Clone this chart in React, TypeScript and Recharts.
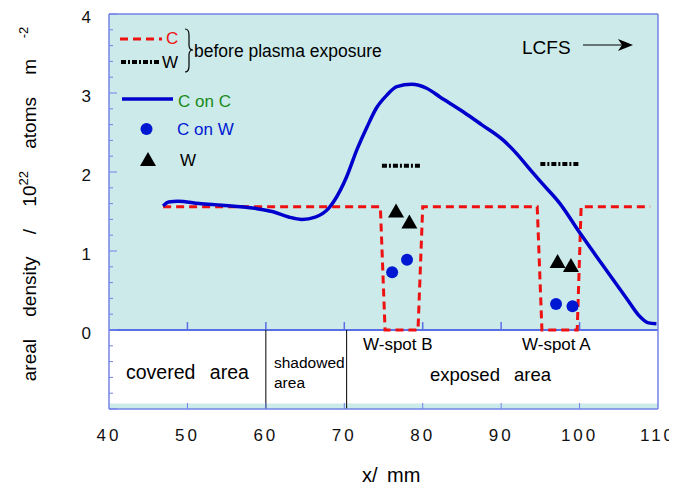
import React from "react";
import {
  ComposedChart,
  Line,
  Scatter,
  XAxis,
  YAxis,
  ReferenceArea,
  ReferenceLine,
} from "recharts";

// C layer before exposure (red dashed, step profile)
const cBefore = [
  { x: 46.9, y: 1.56 },
  { x: 74.6, y: 1.56 },
  { x: 75.2, y: 0 },
  { x: 79.4, y: 0 },
  { x: 80.0, y: 1.56 },
  { x: 94.6, y: 1.56 },
  { x: 95.2, y: 0 },
  { x: 99.7, y: 0 },
  { x: 100.2, y: 1.56 },
  { x: 109.0, y: 1.56 },
];

// W spots before exposure (black dash-dot)
const wSpotB = [
  { x: 74.8, y: 2.08 },
  { x: 79.9, y: 2.08 },
];
const wSpotA = [
  { x: 95.0, y: 2.1 },
  { x: 100.1, y: 2.1 },
];

// C on C after exposure (blue line)
const cOnC = [
  { x: 46.9, y: 1.57 },
  { x: 47.6, y: 1.62 },
  { x: 48.8, y: 1.63 },
  { x: 51.5, y: 1.6 },
  { x: 54.4, y: 1.58 },
  { x: 58.6, y: 1.54 },
  { x: 60.8, y: 1.5 },
  { x: 62.9, y: 1.43 },
  { x: 64.6, y: 1.4 },
  { x: 66.3, y: 1.43 },
  { x: 68.0, y: 1.54 },
  { x: 69.5, y: 1.77 },
  { x: 70.3, y: 1.94 },
  { x: 71.6, y: 2.28 },
  { x: 72.9, y: 2.57 },
  { x: 74.1, y: 2.81 },
  { x: 75.4, y: 2.97 },
  { x: 76.7, y: 3.08 },
  { x: 78.6, y: 3.11 },
  { x: 80.5, y: 3.06 },
  { x: 82.2, y: 2.95 },
  { x: 85.2, y: 2.76 },
  { x: 87.5, y: 2.6 },
  { x: 90.3, y: 2.4 },
  { x: 92.0, y: 2.23 },
  { x: 93.7, y: 2.03 },
  { x: 95.0, y: 1.88 },
  { x: 97.5, y: 1.6 },
  { x: 100.1, y: 1.22 },
  { x: 103.1, y: 0.8 },
  { x: 106.0, y: 0.4 },
  { x: 107.7, y: 0.17 },
  { x: 108.8, y: 0.09 },
  { x: 109.8, y: 0.08 },
];

// C on W (blue dots)
const cOnW = [
  { x: 76.1, y: 0.73 },
  { x: 78.0, y: 0.89 },
  { x: 97.0, y: 0.33 },
  { x: 99.1, y: 0.3 },
];

// W after exposure (black triangles)
const wAfter = [
  { x: 76.6, y: 1.5 },
  { x: 78.3, y: 1.36 },
  { x: 97.2, y: 0.86 },
  { x: 98.9, y: 0.81 },
];

const xTicks = [40, 50, 60, 70, 80, 90, 100, 110];
const innerXTicks = [50, 60, 70, 80, 90, 100];
const yMinorTicks = [
  -1, -0.8, -0.6, -0.4, -0.2, 0, 0.2, 0.4, 0.6, 0.8, 1, 1.2, 1.4, 1.6, 1.8, 2,
  2.2, 2.4, 2.6, 2.8, 3, 3.2, 3.4, 3.6, 3.8, 4,
];

const FONT = "'Liberation Sans', Arial, sans-serif";
const FRAME = "#7383e6";
const CYAN = "#cceaea";

const isMajor = (v: number) => Math.abs(v - Math.round(v)) < 1e-6;

function LeftTick({ x, y, payload }: any) {
  const v = payload.value;
  const len = isMajor(v) ? 8 : 4;
  return (
    <g>
      <line x1={x} y1={y} x2={x + len} y2={y} stroke={FRAME} strokeWidth={1} />
      {isMajor(v) && v >= 0 && (
        <text x={x - 18} y={y + 3} textAnchor="end" dominantBaseline="central" fontSize={17} fill="#111" fontFamily={FONT}>
          {v}
        </text>
      )}
    </g>
  );
}

function RightTick({ x, y, payload }: any) {
  const v = payload.value;
  const len = isMajor(v) ? 9 : 5;
  return <line x1={x} y1={y} x2={x - len} y2={y} stroke={FRAME} strokeWidth={1} />;
}

function BottomTick({ x, y, payload }: any) {
  const v = payload.value;
  const inner = v > 40 && v < 110;
  return (
    <g>
      {inner && <line x1={x} y1={y} x2={x} y2={y - 6} stroke={FRAME} strokeWidth={1} />}
      <text x={x} y={y + 26} textAnchor="middle" dominantBaseline="central" fontSize={17} letterSpacing={3} fill="#111" fontFamily={FONT}>
        {v}
      </text>
    </g>
  );
}

function TopTick({ x, y, payload }: any) {
  const v = payload.value;
  if (v <= 40 || v >= 110) return <g />;
  return <line x1={x} y1={y} x2={x} y2={y + 8} stroke={FRAME} strokeWidth={1} />;
}

function Dot(props: any) {
  const { cx, cy } = props;
  return <circle cx={cx} cy={cy} r={6} fill="#0018d2" />;
}

function Tri(props: any) {
  const { cx, cy } = props;
  return <path d={`M${cx},${cy - 8} L${cx + 8},${cy + 6} L${cx - 8},${cy + 6} Z`} fill="#000" />;
}

const abs = (left: number, top: number, extra: React.CSSProperties = {}): React.CSSProperties => ({
  position: "absolute",
  left,
  top,
  fontFamily: FONT,
  whiteSpace: "nowrap",
  lineHeight: 1,
  ...extra,
});

export default function App() {
  return (
    <div style={{ position: "relative", width: 669, height: 482, fontFamily: FONT }}>
      <style>{".recharts-surface{overflow:visible}"}</style>
      <ComposedChart width={669} height={482} margin={{ top: 5, right: 18, left: 100, bottom: 80 }}>
        <ReferenceArea xAxisId="b" yAxisId="l" x1={40} x2={110} y1={0} y2={4} fill={CYAN} fillOpacity={1} stroke="none" />
        <ReferenceArea xAxisId="b" yAxisId="l" x1={40} x2={110} y1={-1} y2={-0.93} fill={CYAN} fillOpacity={1} stroke="none" />
        <XAxis
          xAxisId="b"
          type="number"
          dataKey="x"
          domain={[40, 110]}
          ticks={xTicks}
          orientation="bottom"
          height={1}
          tickSize={0}
          tickMargin={0}
          tickLine={false}
          axisLine={{ stroke: FRAME, strokeWidth: 1.5 }}
          tick={<BottomTick />}
          interval={0}
          allowDataOverflow
        />
        <XAxis
          xAxisId="t"
          type="number"
          dataKey="x"
          domain={[40, 110]}
          ticks={xTicks}
          orientation="top"
          height={1}
          tickSize={0}
          tickMargin={0}
          tickLine={false}
          axisLine={{ stroke: FRAME, strokeWidth: 1.5 }}
          tick={<TopTick />}
          interval={0}
        />
        <YAxis
          yAxisId="l"
          type="number"
          domain={[-1, 4]}
          ticks={yMinorTicks}
          width={1}
          tickSize={0}
          tickMargin={0}
          tickLine={false}
          axisLine={{ stroke: FRAME, strokeWidth: 1.5 }}
          tick={<LeftTick />}
          interval={0}
          allowDataOverflow
        />
        <YAxis
          yAxisId="r"
          orientation="right"
          type="number"
          domain={[-1, 4]}
          ticks={yMinorTicks}
          width={1}
          tickSize={0}
          tickMargin={0}
          tickLine={false}
          axisLine={{ stroke: FRAME, strokeWidth: 1.5 }}
          tick={<RightTick />}
          interval={0}
        />
        <ReferenceLine xAxisId="b" yAxisId="l" y={0} stroke="#5a6ee6" strokeWidth={2} />
        {innerXTicks.map((t) => (
          <ReferenceLine
            key={t}
            xAxisId="b"
            yAxisId="l"
            segment={[
              { x: t, y: 0 },
              { x: t, y: 0.1 },
            ]}
            stroke="#5a6ee6"
            strokeWidth={1.5}
          />
        ))}
        <ReferenceLine xAxisId="b" yAxisId="l" segment={[{ x: 60, y: -1 }, { x: 60, y: 0 }]} stroke="#000" strokeWidth={1} />
        <ReferenceLine xAxisId="b" yAxisId="l" segment={[{ x: 70.3, y: -1 }, { x: 70.3, y: 0 }]} stroke="#000" strokeWidth={1} />

        <Line xAxisId="b" yAxisId="l" data={cBefore} dataKey="y" type="linear" stroke="#ee1111" strokeWidth={3} strokeDasharray="8 5" dot={false} isAnimationActive={false} />
        <Line xAxisId="b" yAxisId="l" data={wSpotB} dataKey="y" type="linear" stroke="#000" strokeWidth={4} strokeDasharray="5 2 2 2" dot={false} isAnimationActive={false} />
        <Line xAxisId="b" yAxisId="l" data={wSpotA} dataKey="y" type="linear" stroke="#000" strokeWidth={4} strokeDasharray="5 2 2 2" dot={false} isAnimationActive={false} />
        <Line xAxisId="b" yAxisId="l" data={cOnC} dataKey="y" type="monotone" stroke="#0000cc" strokeWidth={3.5} dot={false} isAnimationActive={false} />
        <Scatter xAxisId="b" yAxisId="l" data={cOnW} dataKey="y" shape={<Dot />} isAnimationActive={false} />
        <Scatter xAxisId="b" yAxisId="l" data={wAfter} dataKey="y" shape={<Tri />} isAnimationActive={false} />
      </ComposedChart>

      {/* legend */}
      <svg style={{ position: "absolute", left: 0, top: 0 }} width={669} height={482} pointerEvents="none">
        <line x1={112} y1={31} x2={154} y2={31} stroke="#ee1111" strokeWidth={3} strokeDasharray="8 5" />
        <line x1={113} y1={54} x2={152} y2={54} stroke="#000" strokeWidth={4} strokeDasharray="5 2 2 2" />
        <path d="M177,21 Q181,21 181,27 L181,37 Q181,42 185,42 Q181,42 181,47 L181,58 Q181,64 177,64" fill="none" stroke="#000" strokeWidth={1.2} />
        <line x1={114} y1={91} x2={165} y2={91} stroke="#0000cc" strokeWidth={3.5} />
        <circle cx={138.5} cy={121} r={6} fill="#0018d2" />
        <path d="M140,144 L148,158 L132,158 Z" fill="#000" />
        <line x1={575} y1={37} x2={615} y2={37} stroke="#000" strokeWidth={1} />
        <path d="M625,37 L610,31 L614,37 L610,43 Z" fill="#000" />
      </svg>
      <div style={abs(158, 22, { fontSize: 17, color: "#ee1111" })}>C</div>
      <div style={abs(154, 46, { fontSize: 17, color: "#000" })}>W</div>
      <div style={abs(186, 35, { fontSize: 17.5, color: "#000" })}>before plasma exposure</div>
      <div style={abs(170, 85, { fontSize: 17, color: "#1a8a1a" })}>C on C</div>
      <div style={abs(169, 113, { fontSize: 17, color: "#0018d2" })}>C on W</div>
      <div style={abs(172, 144, { fontSize: 17, color: "#000" })}>W</div>
      <div style={abs(514, 30, { fontSize: 19, color: "#000" })}>LCFS</div>

      {/* region labels */}
      <div style={abs(118, 355, { fontSize: 19.5, color: "#000", wordSpacing: 9 })}>covered area</div>
      <div style={abs(266, 345, { fontSize: 15.5, color: "#000", lineHeight: "20px", whiteSpace: "normal", width: 80 })}>
        shadowed
        <br />
        area
      </div>
      <div style={abs(355, 328, { fontSize: 17, color: "#000" })}>W-spot B</div>
      <div style={abs(514, 328, { fontSize: 17, color: "#000" })}>W-spot A</div>
      <div style={abs(422, 358, { fontSize: 18.5, color: "#000", wordSpacing: 9 })}>exposed area</div>

      {/* axis titles */}
      <div style={abs(354, 457, { fontSize: 20, color: "#000", wordSpacing: 4 })}>x/ mm</div>
      <div
        style={abs(20, 196, {
          fontSize: 19,
          color: "#000",
          wordSpacing: 17,
          transform: "translate(-50%, -50%) rotate(-90deg)",
        })}
      >
        areal density / 10<sup style={{ fontSize: 13 }}>22</sup> atoms m<sup style={{ fontSize: 13 }}> -2</sup>
      </div>
    </div>
  );
}
